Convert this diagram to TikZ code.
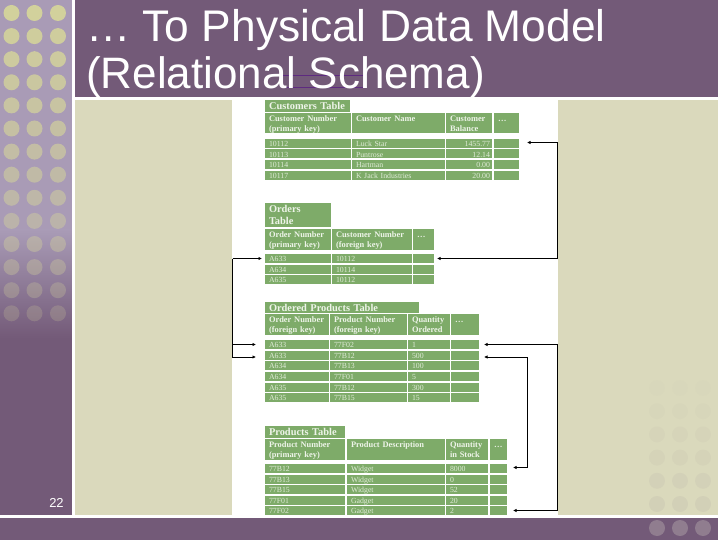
\documentclass[tikz,border=0pt]{standalone}
\usepackage{fontspec}
\setmainfont{Liberation Serif}
\newfontfamily\titlefont{Liberation Sans}
\usetikzlibrary{arrows.meta}
\definecolor{plum}{HTML}{735A78}
\definecolor{plumlight}{HTML}{A99BB6}
\definecolor{khaki}{HTML}{DAD9BC}
\definecolor{dotk}{HTML}{D2D19C}
\definecolor{cellg}{HTML}{7EAB69}
\definecolor{celltxt}{HTML}{E0EBD8}
\definecolor{headtxt}{HTML}{EEF4E9}
\definecolor{scratch}{HTML}{5E2A80}
\newcommand{\headst}{\rule[-2pt]{0pt}{7pt}}
\newcommand{\ttlst}{\rule[-1pt]{0pt}{10pt}}
\newcommand{\lowered}[1]{\smash{\raisebox{-1.8pt}{#1}}}
\tikzset{
  cell/.style={fill=cellg,inner sep=0pt,outer sep=0pt,text=celltxt,anchor=north west,
    font=\fontsize{7.8}{10}\selectfont},
  rowcell/.style={cell,text height=7pt,text depth=0.5pt},
  headcell/.style={cell,text=headtxt,font=\fontsize{8.4}{10}\selectfont\bfseries},
  titlecell/.style={cell,text=headtxt,font=\fontsize{10.4}{12}\selectfont\bfseries},
  linkline/.style={draw=black,line width=0.9pt,-{Latex[length=3.5pt,width=3.5pt]}},
}
% name, x0, x1, y0, y1, text
\newcommand{\cel}[6]{\node[rowcell,minimum width=#3pt-#2pt,minimum height=#5pt-#4pt,
  align=left,text width=#3pt-#2pt-8pt] (#1) at (#2,#4) {#6};}
\newcommand{\rcel}[6]{\node[rowcell,minimum width=#3pt-#2pt,minimum height=#5pt-#4pt,
  align=right,text width=#3pt-#2pt-4pt] (#1) at (#2,#4) {#6};}
\newcommand{\hcel}[7]{\node[headcell,minimum width=#3pt-#2pt,minimum height=#5pt-#4pt,
  align=left,text width=#3pt-#2pt-8pt] (#1) at (#2,#4) {\lowered{#6}\headst\\\lowered{#7}\headst};}
\newcommand{\ttl}[6]{\node[titlecell,minimum width=#3pt-#2pt,minimum height=#5pt-#4pt,
  align=left,text width=#3pt-#2pt-8pt] (#1) at (#2,#4) {#6};}
\begin{document}
\begin{tikzpicture}[x=1pt,y=-1pt]
\useasboundingbox (0,0) rectangle (720,540);
\fill[white] (0,0) rectangle (720,540);
% bands
\fill[plum] (0,0) rectangle (71.5,515);
\fill[plumlight] (0,0) rectangle (71.5,230);
\fill[top color=plumlight,bottom color=plum] (0,230) rectangle (71.5,338);
\fill[plum] (74.5,0) rectangle (718,97);
\fill[plum] (0,518) rectangle (718,540);
\fill[khaki] (75,100) rectangle (232,515);
\fill[khaki] (558,100) rectangle (718,515);
% left dots
\foreach \r in {0,...,13}{
  \pgfmathsetmacro{\op}{max(0.15,1-\r*0.06)}
  \foreach \c in {11.5,34.5,58}{
    \fill[dotk,opacity=\op] (\c,{13+\r*23.1}) circle (8pt);
  }
}
% bottom right dots
\foreach \r in {0,...,5}{
  \pgfmathsetmacro{\op}{0.01+\r*0.012}
  \foreach \c in {657,680,703}{
    \fill[plum,opacity=\op] (\c,{388+\r*23.2}) circle (8pt);
  }
}
\foreach \c in {657,680,703}{\fill[white!40!khaki,opacity=.25] (\c,528) circle (8pt);}
% title
\draw[scratch,line width=0.7pt] (283,75) -- (363,75) (283,87) -- (363,87);
\node[inner sep=0pt,anchor=base west,text=white,font=\titlefont\fontsize{44.3}{47}\selectfont] (t1) at (86,42) {… To Physical Data Model};
\node[inner sep=0pt,anchor=base west,text=white,font=\titlefont\fontsize{44}{47}\selectfont] (t2) at (86,89) {(Relational Schema)};
\node[inner sep=0pt,text=white,font=\titlefont\fontsize{13}{15}\selectfont] (num) at (56.5,503) {22};
% white panel
\fill[white] (232,98) rectangle (558,515);
% Customers
\ttl{ca}{265}{350}{100}{112}{\ttlst Customers Table}
\hcel{c1}{265}{351}{113}{133}{Customer Number}{(primary key)}
\hcel{c2}{352}{445}{113}{133}{Customer Name}{}
\hcel{c3}{446}{492}{113}{133}{Customer}{Balance}
\hcel{c4}{494}{519}{113}{133}{\ldots}{}
\foreach \y/\a/\b/\d [count=\i] in {139/10112/Luck Star/1455.77,149.5/10113/Puntrose/12.14,160/10114/Hartman/0.00,171/10117/K Jack Industries/20.00}{
  \cel{cr\i a}{265}{351}{\y}{\y+9}{\a}
  \cel{cr\i b}{352}{445}{\y}{\y+9}{\b}
  \rcel{cr\i c}{446}{492}{\y}{\y+9}{\d}
  \cel{cr\i d}{494}{519}{\y}{\y+9}{}
}
% Orders
\ttl{oa}{265}{331}{203}{227}{\ttlst Orders\\\ttlst Table}
\hcel{o1}{265}{331}{229}{250}{Order Number}{(primary key)}
\hcel{o2}{332}{412}{229}{250}{Customer Number}{(foreign key)}
\hcel{o3}{413}{434}{229}{250}{\ldots}{}
\foreach \y/\a/\b [count=\i] in {254/A633/10112,264.5/A634/10114,275/A635/10112}{
  \cel{or\i a}{265}{331}{\y}{\y+9}{\a}
  \cel{or\i b}{332}{412}{\y}{\y+9}{\b}
  \cel{or\i c}{413}{434}{\y}{\y+9}{}
}
% Ordered products
\ttl{pa}{265}{419}{302}{312.5}{\ttlst Ordered Products Table}
\hcel{p1}{265}{329}{314}{335}{Order Number}{(foreign key)}
\hcel{p2}{330}{407}{314}{335}{Product Number}{(foreign key)}
\hcel{p3}{408}{450}{314}{335}{Quantity}{Ordered}
\hcel{p4}{451}{479}{314}{335}{\ldots}{}
\foreach \y/\a/\b/\q [count=\i] in {340/A633/77F02/1,350.5/A633/77B12/500,361/A634/77B13/100,372/A634/77F01/5,382.5/A635/77B12/300,393/A635/77B15/15}{
  \cel{pr\i a}{265}{329}{\y}{\y+9}{\a}
  \cel{pr\i b}{330}{407}{\y}{\y+9}{\b}
  \cel{pr\i c}{408}{450}{\y}{\y+9}{\q}
  \cel{pr\i d}{451}{479}{\y}{\y+9}{}
}
% Products
\ttl{da}{265}{345}{426}{437.5}{\ttlst Products Table}
\hcel{d1}{265}{345}{439}{460}{Product Number}{(primary key)}
\hcel{d2}{347}{445}{439}{460}{Product Description}{}
\hcel{d3}{446}{488}{439}{460}{Quantity}{in Stock}
\hcel{d4}{490}{507}{439}{460}{\ldots}{}
\foreach \y/\a/\b/\q [count=\i] in {464/77B12/Widget/8000,474.5/77B13/Widget/0,485/77B15/Widget/52,496/77F01/Gadget/20,506/77F02/Gadget/2}{
  \cel{dr\i a}{265}{345}{\y}{\y+9}{\a}
  \cel{dr\i b}{347}{445}{\y}{\y+9}{\b}
  \cel{dr\i c}{446}{488}{\y}{\y+9}{\q}
  \cel{dr\i d}{490}{507}{\y}{\y+9}{}
}
% connector end coordinates
\coordinate (cT) at ([xshift=8pt,yshift=1pt]cr1d.east);
\coordinate (oT) at ([xshift=3pt]or1c.east);
\coordinate (oL) at ([xshift=-3pt]or1a.west);
\coordinate (p1L) at ([xshift=-9pt]pr1a.west);
\coordinate (p2L) at ([xshift=-9pt,yshift=-2pt]pr2a.west);
\coordinate (p1R) at ([xshift=5pt]pr1d.east);
\coordinate (p2R) at ([xshift=5pt,yshift=-2pt]pr2d.east);
\coordinate (d1R) at ([xshift=6pt,yshift=1pt]dr1d.east);
\coordinate (d5R) at ([xshift=6pt]dr5d.east);
\coordinate (rA) at (557.5,0);
\coordinate (lA) at (232.7,0);
\coordinate (rB) at (557.5,0);
\coordinate (rC) at (527.5,0);
% connectors
\draw[linkline] (rA |- oT) -- (oT);
\draw[linkline] (rA |- oT) |- (cT);
\draw[linkline] (lA |- oL) -- (oL);
\draw[linkline] (lA |- oL) |- (p2L);
\draw[linkline] (lA |- p1L) -- (p1L);
\draw[linkline] (rB |- p1R) -- (p1R);
\draw[linkline] (rB |- p1R) |- (d5R);
\draw[linkline] (rC |- p2R) -- (p2R);
\draw[linkline] (rC |- p2R) |- (d1R);
\end{tikzpicture}
\end{document}
